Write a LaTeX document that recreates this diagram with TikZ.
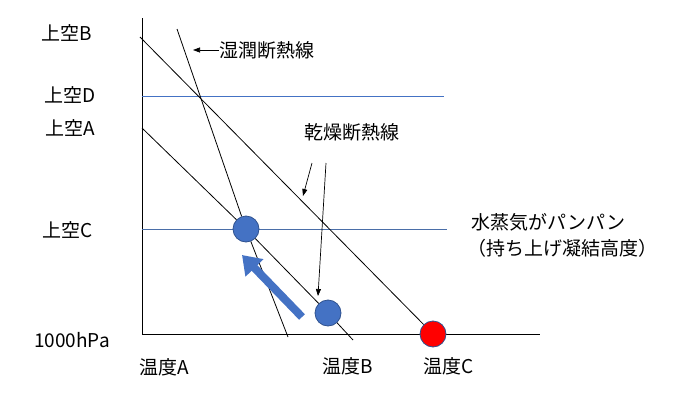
\documentclass[tikz,border=0pt]{standalone}
\usepackage{fontspec}
\setmainfont{Noto Sans CJK JP}
\usetikzlibrary{arrows.meta}
\definecolor{ablue}{HTML}{4472C4}
\definecolor{dblue}{HTML}{2F528F}
\definecolor{lblue}{HTML}{4A6EA8}
\begin{document}
\begin{tikzpicture}[x=1pt,y=-1pt,
  lbl/.style={font=\fontsize{19}{21}\selectfont, inner sep=0pt},
  thin/.style={line width=0.8pt, black},
  ball/.style={circle, minimum size=26pt, inner sep=0pt, draw=dblue, line width=0.8pt},
  ptr/.style={line width=0.7pt, -{Triangle[length=7pt,width=5pt]}}]
\useasboundingbox (0,0) rectangle (697,418);
% axes
\coordinate (ytop) at (142,18);
\coordinate (orig) at (142,334);
\coordinate (xend) at (540,334);
\draw[line width=1pt] (ytop) -- (orig) -- (xend);
% horizontal levels
\coordinate (d0) at (142,96); \coordinate (d1) at (444,96);
\draw[ablue, line width=0.9pt] (d0) -- (d1);
\coordinate (c0) at (142,229); \coordinate (c1) at (447,229);
\draw[lblue, line width=0.7pt] (c0) -- (c1);
% balls
\node[ball, fill=ablue] (b1) at (246,229) {};
\node[ball, fill=ablue] (b2) at (328,313) {};
\node[ball, fill=red] (rc) at (433,334) {};
% dry adiabats
\coordinate (l1s) at (140,37);
\draw[thin] (l1s) -- (rc);
\coordinate (l2s) at (142,128);
\coordinate (l2e) at (353,340);
\draw[thin] (l2s) -- (b1) -- (b2) -- (l2e);
% moist adiabat
\coordinate (m0) at (177,29);
\coordinate (m1) at (288,337);
\draw[thin] (m0) -- (b1) -- (m1);
% thick arrow
\coordinate (ta0) at (302,317);
\coordinate (ta1) at (242,255);
\draw[ablue, line width=8pt, -{Triangle[length=18pt,width=24pt]}] (ta0) -- (ta1);
% left labels
\node[lbl] (uB) at (67,33) {上空B};
\node[lbl] (uD) at (70,95) {上空D};
\node[lbl] (uA) at (70,128) {上空A};
\node[lbl] (uC) at (68,230) {上空C};
\node[lbl] (p1000) at (72,340) {1000hPa};
% bottom labels
\node[lbl] (tA) at (164,367) {温度A};
\node[lbl] (tB) at (348,366) {温度B};
\node[lbl] (tC) at (449,366) {温度C};
% moist label
\node[lbl, anchor=west] (moist) at (219,50) {湿潤断熱線};
\draw[ptr] (moist.west) -- (193,50);
% dry label
\node[lbl] (dry) at (352,132) {乾燥断熱線};
\coordinate (a1s) at (312,163); \coordinate (a1e) at (303,196);
\coordinate (a2s) at (326,163); \coordinate (a2e) at (318,296);
\draw[ptr] (a1s) -- (a1e);
\draw[ptr] (a2s) -- (a2e);
% right text
\node[lbl, anchor=west] (vap) at (471,222) {水蒸気がパンパン};
\node[lbl, anchor=west] (lcl) at (467,248) {（持ち上げ凝結高度）};
\end{tikzpicture}
\end{document}
